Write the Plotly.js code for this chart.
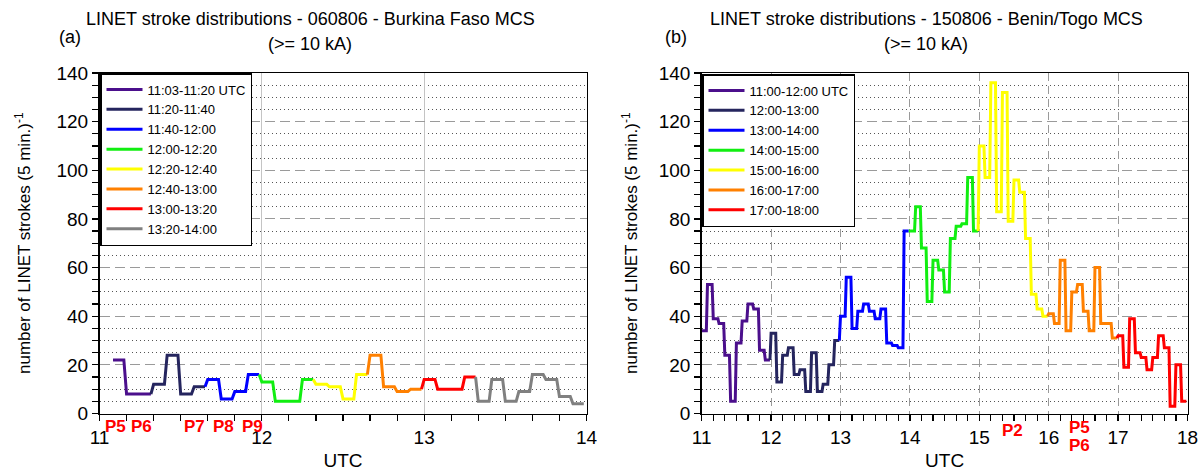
<!DOCTYPE html>
<html>
<head>
<meta charset="utf-8">
<script src="https://cdn.plot.ly/plotly-3.0.1.min.js"></script>
<style>html,body{margin:0;padding:0;background:#fff}#chart{width:1199px;height:471px}</style>
</head>
<body>
<div id="chart"></div>
<script>
// ---------- Panel (a): 060806 Burkina Faso MCS ----------
const binTimesA = ['11:05','11:10','11:15','11:20','11:25','11:30','11:35','11:40','11:45','11:50','11:55',
  '12:00','12:05','12:10','12:15','12:20','12:25','12:30','12:35','12:40','12:45','12:50','12:55',
  '13:00','13:05','13:10','13:15','13:20','13:25','13:30','13:35','13:40','13:45','13:50','13:55'];
const countsA = [22,8,8,12,24,8,11,14,6,9,16,
  13,5,5,14,12,11,6,16,24,11,9,10,
  14,10,10,15,5,14,5,9,16,14,7,4];
const periodLabelsA = ['11:03-11:20 UTC','11:20-11:40','11:40-12:00','12:00-12:20','12:20-12:40','12:40-13:00','13:00-13:20','13:20-14:00'];
const periodStartA = ['11:03','11:20','11:40','12:00','12:20','12:40','13:00','13:20'];
const periodEndA   = ['11:20','11:40','12:00','12:20','12:40','13:00','13:20','14:00'];
const periodColorsA = ['#4b0f8c','#25255e','#0000ff','#11ee11','#ffff00','#ff8000','#ff0000','#808080'];
const pLabelsA = ['P5','P6','P7','P8','P9'];
const pTimesA = [11.099,11.256,11.587,11.762,11.94];

// ---------- Panel (b): 150806 Benin/Togo MCS ----------
const binTimesB = ['11:00','11:05','11:10','11:15','11:20','11:25','11:30','11:35','11:40','11:45','11:50','11:55',
  '12:00','12:05','12:10','12:15','12:20','12:25','12:30','12:35','12:40','12:45','12:50','12:55',
  '13:00','13:05','13:10','13:15','13:20','13:25','13:30','13:35','13:40','13:45','13:50','13:55',
  '14:00','14:05','14:10','14:15','14:20','14:25','14:30','14:35','14:40','14:45','14:50','14:55',
  '15:00','15:05','15:10','15:15','15:20','15:25','15:30','15:35','15:40','15:45','15:50','15:55',
  '16:00','16:05','16:10','16:15','16:20','16:25','16:30','16:35','16:40','16:45','16:50','16:55',
  '17:00','17:05','17:10','17:15','17:20','17:25','17:30','17:35','17:40','17:45','17:50','17:55'];
const countsB = [34,53,39,37,24,5,29,38,45,43,26,22,
  33,13,24,27,16,18,9,25,9,12,20,30,
  40,56,35,42,45,42,39,43,29,28,27,75,
  75,85,68,46,63,59,50,72,77,78,97,75,
  110,97,136,83,132,79,96,91,72,49,43,40,
  41,37,63,34,50,53,42,34,60,37,37,31,
  32,19,39,25,23,18,23,32,27,3,20,5];
const periodLabelsB = ['11:00-12:00 UTC','12:00-13:00','13:00-14:00','14:00-15:00','15:00-16:00','16:00-17:00','17:00-18:00'];
const periodStartB = ['11:00','12:00','13:00','14:00','15:00','16:00','17:00'];
const periodEndB   = ['12:00','13:00','14:00','15:00','16:00','17:00','18:00'];
const periodColorsB = ['#4b0f8c','#25255e','#0000ff','#11ee11','#ffff00','#ff8000','#ff0000'];
const pLabelsB = ['P2','P5','P6'];
const pTimesB = [15.473,16.449,16.449];

// ---------- helpers ----------
const FONT = 'Liberation Sans, Arial, Helvetica, sans-serif';
const W = 1199, H = 471;
const px = v => v / W;
const py = v => 1 - v / H;
function toHours(s){ const p = s.split(':').map(Number); return p[0] + p[1]/60; }

function buildTraces(times, counts, starts, ends, labels, colors, xa, ya, legendId){
  const T = times.map(toHours);
  const plateau = 4/60;   // each 5-min bin drawn flat for 4 minutes
  const out = [];
  for (let p = 0; p < labels.length; p++){
    const s = toHours(starts[p]), e = toHours(ends[p]);
    const xs = [], ys = [];
    let first = true;
    for (let i = 0; i < T.length; i++){
      if (T[i] >= s - 1e-9 && T[i] < e - 1e-9){
        if (first && i > 0){ xs.push(T[i-1] + plateau); ys.push(counts[i-1]); }
        first = false;
        xs.push(T[i], T[i] + plateau); ys.push(counts[i], counts[i]);
      }
    }
    out.push({type:'scatter', mode:'lines', x:xs, y:ys, name:labels[p],
      line:{color:colors[p], width:3}, xaxis:xa, yaxis:ya, legend:legendId, hoverinfo:'x+y'});
  }
  return out;
}

const traces = [].concat(
  buildTraces(binTimesA, countsA, periodStartA, periodEndA, periodLabelsA, periodColorsA, 'x', 'y', 'legend'),
  buildTraces(binTimesB, countsB, periodStartB, periodEndB, periodLabelsB, periodColorsB, 'x2', 'y2', 'legend2')
);

const plotTop = 73, plotBot = 413.5;
const domA = [px(99.5), px(586.5)];
const domB = [px(701.7), px(1187.5)];
const domY = [py(plotBot), py(plotTop)];

function xAxis(domain, range, anchor, gridDash, gridColor){
  return {domain, range, anchor, tickmode:'linear', tick0:range[0], dtick:1,
    ticks:'outside', ticklen:6, tickwidth:1.2, tickcolor:'#000',
    showline:true, linecolor:'#000', linewidth:1.5, mirror:true,
    showgrid:true, gridcolor:gridColor, griddash:gridDash, gridwidth:1,
    zeroline:false, automargin:false,
    tickfont:{family:FONT, size:19, color:'#000'},
    title:{text:'UTC', font:{family:FONT, size:19, color:'#000'}, standoff:9},
    minor:{dtick:1/6, tick0:range[0], ticks:'outside', ticklen:6, tickwidth:1.2, tickcolor:'#000', showgrid:false}};
}
function yAxis(anchor){
  return {domain:domY, range:[0,140], anchor, tickmode:'linear', tick0:0, dtick:20,
    ticks:'outside', ticklen:6, tickwidth:1.2, tickcolor:'#000',
    showline:true, linecolor:'#000', linewidth:1.5, mirror:true,
    showgrid:true, gridcolor:'#9a9a9a', griddash:'10px,5px', gridwidth:1,
    zeroline:false, automargin:false,
    tickfont:{family:FONT, size:19, color:'#000'},
    minor:{dtick:5, tick0:0, ticks:'outside', ticklen:6, tickwidth:1.2, tickcolor:'#000',
      showgrid:true, gridcolor:'#555', griddash:'1px,3px', gridwidth:1}};
}
function topAxis(over, anchor, range){
  return {overlaying:over, side:'top', anchor, range, tickmode:'linear', tick0:range[0], dtick:1,
    ticks:'inside', ticklen:6, tickwidth:1.2, tickcolor:'#000', showticklabels:false,
    showgrid:false, zeroline:false, showline:false,
    minor:{dtick:1/6, tick0:range[0], ticks:'inside', ticklen:6, tickwidth:1.2, tickcolor:'#000', showgrid:false}};
}
function rightAxis(over, anchor){
  return {overlaying:over, side:'right', anchor, range:[0,140], tickmode:'linear', tick0:0, dtick:20,
    ticks:'inside', ticklen:6, tickwidth:1.2, tickcolor:'#000', showticklabels:false,
    showgrid:false, zeroline:false, showline:false,
    minor:{dtick:5, tick0:0, ticks:'inside', ticklen:6, tickwidth:1.2, tickcolor:'#000', showgrid:false}};
}

function legendBox(x, y){
  return {x:px(x), y:py(y), xanchor:'left', yanchor:'top', bgcolor:'#fff', bordercolor:'#000', borderwidth:1.5,
    font:{family:FONT, size:13, color:'#000'}, tracegroupgap:0, itemwidth:36};
}

const annotations = [];
function addText(text, x, y, size, opts){
  annotations.push(Object.assign({text, x:px(x), y:py(y), xref:'paper', yref:'paper', showarrow:false,
    xanchor:'center', yanchor:'middle', font:{family:FONT, size, color:'#000'}}, opts||{}));
}
addText('(a)', 70, 37, 18);
addText('LINET stroke distributions - 060806 - Burkina Faso MCS', 310, 19, 18);
addText('(&gt;= 10 kA)', 310, 44, 18);
addText('(b)', 676, 37, 18);
addText('LINET stroke distributions - 150806 - Benin/Togo MCS', 926, 19, 18);
addText('(&gt;= 10 kA)', 926, 44, 18);
const yTitle = 'number of LINET strokes (5 min.)<sup>-1</sup>';
addText(yTitle, 23, 243, 17, {textangle:-90});
addText(yTitle, 630, 243, 17, {textangle:-90});

function addP(labels, times, xref, ys){
  for (let i = 0; i < labels.length; i++){
    annotations.push({text:'<b>'+labels[i]+'</b>', x:times[i], xref:xref, y:py(ys[i]), yref:'paper',
      showarrow:false, xanchor:'center', yanchor:'middle', font:{family:FONT, size:17, color:'#ff0000'}});
  }
}
addP(pLabelsA, pTimesA, 'x', [426,426,426,426,426]);
addP(pLabelsB, pTimesB, 'x2', [430,427,445]);

const layout = {
  width:W, height:H, margin:{l:0, r:0, t:0, b:0},
  paper_bgcolor:'#fff', plot_bgcolor:'#fff',
  font:{family:FONT, color:'#000'},
  showlegend:true,
  xaxis: xAxis(domA, [11,14], 'y', 'solid', '#c4c4c4'),
  yaxis: yAxis('x'),
  xaxis2: xAxis(domB, [11,18], 'y2', '8px,5px', '#9a9a9a'),
  yaxis2: yAxis('x2'),
  xaxis3: topAxis('x', 'y', [11,14]),
  yaxis3: rightAxis('y', 'x'),
  xaxis4: topAxis('x2', 'y2', [11,18]),
  yaxis4: rightAxis('y2', 'x2'),
  legend: legendBox(100, 73),
  legend2: legendBox(702, 74),
  annotations
};

Plotly.newPlot('chart', traces, layout, {displayModeBar:false, staticPlot:true});
</script>
</body>
</html>
